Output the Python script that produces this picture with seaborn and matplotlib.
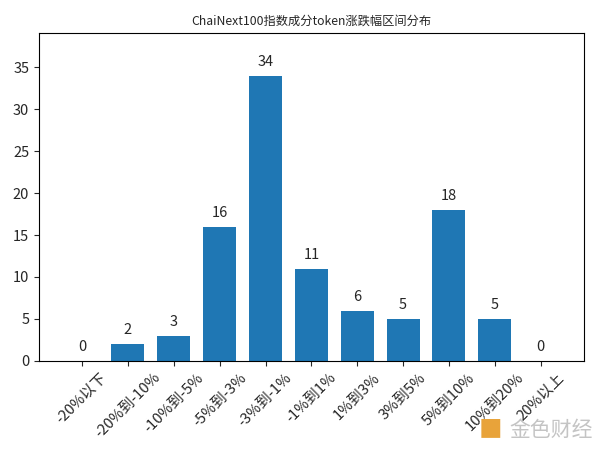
import matplotlib
matplotlib.use("Agg")
import matplotlib.pyplot as plt
import seaborn as sns
import pandas as pd

categories = ["-20%以下", "-20%到-10%", "-10%到-5%", "-5%到-3%", "-3%到-1%", "-1%到1%",
              "1%到3%", "3%到5%", "5%到10%", "10%到20%", "20%以上"]
counts = [0, 2, 3, 16, 34, 11, 6, 5, 18, 5, 0]
title = "ChaiNext100指数成分token涨跌幅区间分布"

sns.set_style("ticks")
plt.rcParams['font.family'] = ['Noto Sans CJK SC', 'DejaVu Sans']

df = pd.DataFrame({"cat": categories, "n": counts})
fig = plt.figure(figsize=(6, 4.5), dpi=100)
ax = fig.add_axes([0.065, 0.198, 0.908, 0.729])
sns.barplot(data=df, x="cat", y="n", color="#1f77b4", saturation=1, width=0.72,
            linewidth=0, ax=ax)
for i, v in enumerate(counts):
    ax.annotate(str(v), (i, v), xytext=(0, 5), textcoords="offset points",
                ha="center", va="bottom", fontsize=10.5)
ax.set_ylim(0, max(counts) * 1.15)
ax.set_xlim(-0.94, len(categories) - 0.06)
ax.set_yticks(range(0, 36, 5))
ax.set_xlabel("")
ax.set_ylabel("")
ax.set_title(title, fontsize=8.8, pad=6)
ax.tick_params(axis='x', labelsize=10.7)
ax.tick_params(axis='y', labelsize=10.5)
for lab in ax.get_xticklabels():
    lab.set_rotation(45)
    lab.set_ha("center")
for s in ax.spines.values():
    s.set_visible(True)
    s.set_color("black")
    s.set_linewidth(0.8)

fig.text(0.817, 0.045, "■", color="#e8a33a", fontsize=17, ha="center", va="center")
fig.text(0.918, 0.045, "金色财经", color="#c4c4c4", fontsize=15, ha="center", va="center")
fig.savefig("out.png", dpi=100)
